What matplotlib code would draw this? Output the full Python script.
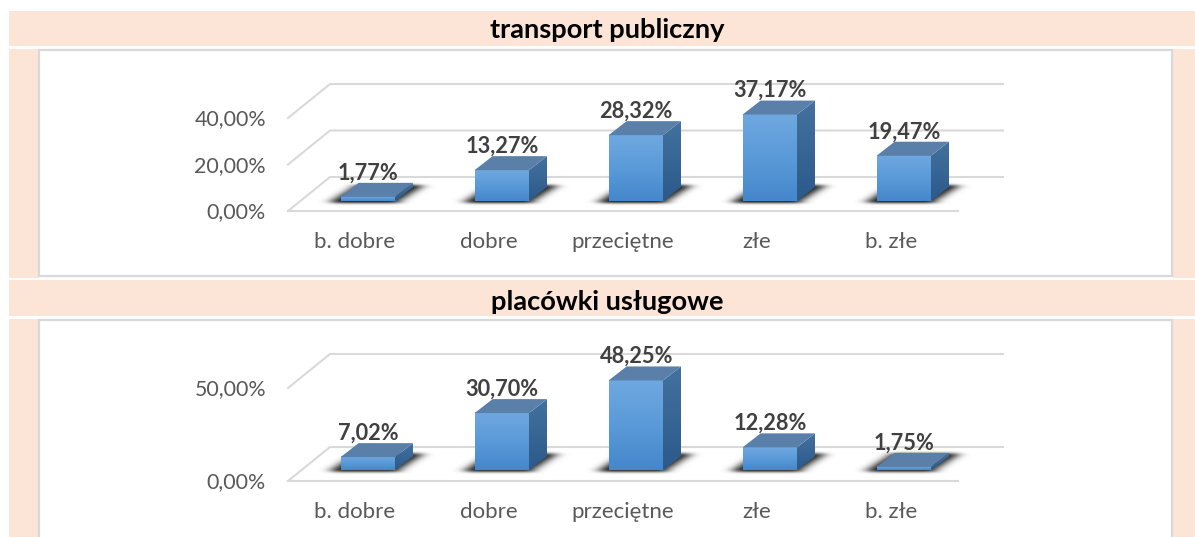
import numpy as np
import matplotlib
matplotlib.use("Agg")
import matplotlib.pyplot as plt
from matplotlib.patches import Polygon, Rectangle
from matplotlib.colors import LinearSegmentedColormap

categories = ["b. dobre", "dobre", "przeciętne", "złe", "b. złe"]
titles = ["transport publiczny", "placówki usługowe"]
transport = [1.77, 13.27, 28.32, 37.17, 19.47]
placowki = [7.02, 30.70, 48.25, 12.28, 1.75]
ticks_1 = [0, 20, 40]
ticks_2 = [0, 50]

W, H = 1195, 537
plt.rcParams['font.family'] = ['Lato', 'DejaVu Sans']
fig = plt.figure(figsize=(W/100, H/100), dpi=100, facecolor='white')
bg = fig.add_axes([0, 0, 1, 1])
bg.set_xlim(0, W); bg.set_ylim(H, 0); bg.axis('off')
PEACH = '#fce4d6'
for x, y, w, h in [(9, 11, 1186, 35), (9, 49, 30, 229), (1173, 49, 22, 229),
                   (9, 280, 1186, 36), (9, 319, 30, 218), (1173, 319, 22, 218)]:
    bg.add_patch(Rectangle((x, y), w, h, fc=PEACH, ec='none'))
for y, h in [(50, 226), (320, 230)]:
    bg.add_patch(Rectangle((39, y), 1133, h, fc='white', ec='#d9d9d9', lw=1.6))
bg.text(607, 30, titles[0], ha='center', va='center', fontsize=19.6, fontweight='bold', color='black')
bg.text(607, 302, titles[1], ha='center', va='center', fontsize=19.6, fontweight='bold', color='black')

front_cmap = LinearSegmentedColormap.from_list('f', ['#6fa8e0', '#5a9ad9', '#4587cb'])
side_cmap = LinearSegmentedColormap.from_list('s', ['#44729f', '#2b5a8b'])
grad = np.linspace(0, 1, 64).reshape(-1, 1)
X0, STEP, BW = 367.8, 134, 54.4
DX, DY = 42, 34       # floor depth
BDX, BDY = 18, 14     # bar depth


def blur1d(a, sigma, axis):
    r = int(3 * sigma)
    k = np.exp(-0.5 * (np.arange(-r, r + 1) / sigma) ** 2)
    k /= k.sum()
    return np.apply_along_axis(lambda m: np.convolve(m, k, mode='same'), axis, a)


def shadow_image():
    # soft floor shadow, in pixels: 0..w across, 0..h upward from the bar foot
    pad = 40
    w, h = int(BW + BDX + 2 * pad + 20), 44
    yy, xx = np.mgrid[0:h, 0:w]
    yu = h - 1 - yy - 12.0          # height above foot line
    xu = xx - pad - 8.0
    t = np.clip(yu / BDY, 0, 1)
    left = -9 + t * (BDX + 4)
    right = BW + 4 + t * (BDX + 4)
    mask = ((yu >= -2) & (yu <= BDY + 1) & (xu >= left) & (xu <= right)).astype(float)
    mask = blur1d(blur1d(mask, 6.0, 1), 1.3, 0)
    rgba = np.zeros((h, w, 4))
    rgba[..., :3] = 0.2
    rgba[..., 3] = np.clip(mask * 1.15, 0, 1)
    return rgba, w, h, pad + 8.0, 12.0


shadow, SW, SH, SX, SY = shadow_image()


def chart(values, ticks, y0_px, px_per_unit, base_px):
    ax = fig.add_axes([0, 0, 1, 1], facecolor='none')
    ax.axis('off')
    ux, uy = 1 / STEP, 1 / px_per_unit
    xl, xf, xb0, xb1 = -79.8 * ux, 590.2 * ux, -37.8 * ux, 635.2 * ux
    for t in ticks:
        ax.plot([xl, xb0, xb1], [t, t + DY * uy, t + DY * uy], color='#d9d9d9', lw=1.5, zorder=1)
        ax.text(xl - 22 * ux, t - 1.2 * uy, f"{t:.2f}%".replace('.', ','), ha='right', va='center',
                fontsize=15.4, color='#595959')
    ax.plot([xl, xf], [0, 0], color='#d9d9d9', lw=1.5, zorder=1)
    base = base_px * uy
    for i, (v, c) in enumerate(zip(values, categories)):
        l, r = i - BW / 2 * ux, i + BW / 2 * ux
        bx, by = BDX * ux, BDY * uy
        ax.imshow(shadow, extent=(l - SX * ux, l + (SW - SX) * ux,
                                  base - SY * uy, base + (SH - SY) * uy),
                  aspect='auto', zorder=2, interpolation='bilinear')
        top = base + v
        ax.imshow(grad, extent=(l, r, base, top), cmap=front_cmap, aspect='auto', origin='upper',
                  zorder=3, interpolation='bilinear')
        im = ax.imshow(grad, extent=(r, r + bx, base, top + by), cmap=side_cmap, aspect='auto',
                       origin='upper', zorder=3, interpolation='bilinear')
        side = Polygon([(r, base), (r + bx, base + by), (r + bx, top + by), (r, top)],
                       fc='none', ec='none', transform=ax.transData)
        ax.add_patch(side)
        im.set_clip_path(side)
        ax.add_patch(Polygon([(l, top), (r, top), (r + bx, top + by), (l + bx, top + by)],
                             fc='#5a80aa', ec='none', zorder=3))
        ax.text(i + 0.5 * ux, top + by - 0.5 * uy, f"{v:.2f}%".replace('.', ','), ha='center',
                va='bottom', fontsize=15.7, fontweight='bold', color='#404040', zorder=4)
        ax.text(i - 13 * ux, -30.5 * uy, c, ha='center', va='center', fontsize=16, color='#595959')
    ax.set_xlim(-X0 / STEP, (W - X0) / STEP)
    ax.set_ylim((y0_px - H) / px_per_unit, y0_px / px_per_unit)


chart(transport, ticks_1, 211, 2.325, 10)
chart(placowki, ticks_2, 481, 1.86, 10.8)
fig.savefig('out.png', dpi=100)
